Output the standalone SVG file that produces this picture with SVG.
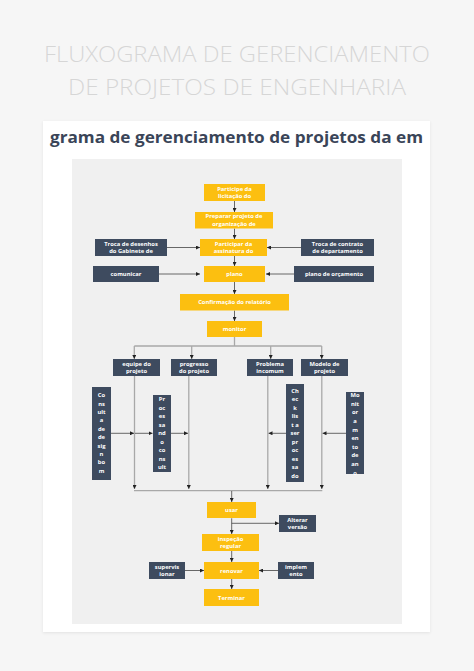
<svg xmlns="http://www.w3.org/2000/svg" width="474" height="671" viewBox="0 0 474 671">
<defs>
<marker id="ah" viewBox="0 0 6 6" refX="6" refY="3" markerWidth="4" markerHeight="4" markerUnits="userSpaceOnUse" orient="auto">
<path d="M0,0 L6,3 L0,6 Z" fill="#222"/>
</marker>
<filter id="sh" x="-5%" y="-5%" width="110%" height="110%">
<feDropShadow dx="0" dy="1" stdDeviation="1.5" flood-color="#000" flood-opacity="0.08"/>
</filter>
</defs>
<style>
.y{fill:#fcbf10}
.d{fill:#3e4b5f}
.t{font-family:"Open Sans","Noto Sans",sans-serif;font-weight:700;font-size:5.8px;fill:#ffffff;text-anchor:middle}
.c{fill:none;stroke:#444;stroke-width:0.8}
.g{fill:none;stroke:#a8a8a8;stroke-width:1.3}
.a{marker-end:url(#ah)}
</style>
<rect width="474" height="671" fill="#f6f6f6"/>
<g id="title" font-family="'Open Sans','Noto Sans',sans-serif" font-weight="300" font-size="22" fill="#d6d6d6" text-anchor="middle">
<text x="237" y="62" textLength="386" lengthAdjust="spacingAndGlyphs">FLUXOGRAMA DE GERENCIAMENTO</text>
<text x="237" y="95" textLength="338" lengthAdjust="spacingAndGlyphs">DE PROJETOS DE ENGENHARIA</text>
</g>
<rect x="43" y="121" width="387" height="511" fill="#ffffff" filter="url(#sh)"/>
<text x="50" y="143" font-family="'Open Sans','Noto Sans',sans-serif" font-weight="700" font-size="16" fill="#3a4558" textLength="373" lengthAdjust="spacingAndGlyphs">grama de gerenciamento de projetos da em</text>
<rect x="72" y="159" width="330" height="465" fill="#f0f0f0"/>

<g id="connectors">
<path class="c a" d="M234.5,201 V212"/>
<path class="c a" d="M234.5,228.5 V239"/>
<path class="c a" d="M234.5,256 V266"/>
<path class="c a" d="M234.5,282 V294"/>
<path class="c a" d="M234.5,310.5 V321"/>
<path class="c a" d="M167,247.5 H200"/>
<path class="c a" d="M301,247.5 H267"/>
<path class="c a" d="M159,274 H200"/>
<path class="c a" d="M294,274 H266"/>
<path class="g" d="M234.5,337 V346 M134.3,346 H321.7"/>
<path class="g a" d="M134.3,346 V359"/>
<path class="g a" d="M191.7,346 V359"/>
<path class="g a" d="M270.7,346 V359"/>
<path class="g a" d="M321.7,346 V359"/>
<path class="g a" d="M134.5,376 V489"/>
<path class="g a" d="M188.8,376 V489"/>
<path class="g a" d="M267.8,376 V489"/>
<path class="g a" d="M321.8,376 V489"/>
<path class="g" d="M134,490.7 H322.3"/>
<path class="c a" d="M111,433.3 H134"/>
<path class="c a" d="M135,433.3 H152.5"/>
<path class="c a" d="M171,433.3 H188"/>
<path class="c a" d="M286,433.3 H268.5"/>
<path class="c a" d="M346,433.3 H322.5"/>
<path class="c a" d="M231.7,491 V502"/>
<path class="c a" d="M231.7,518.3 V534"/>
<path class="c a" d="M231.7,523.3 H279"/>
<path class="c a" d="M231.7,551 V562"/>
<path class="c a" d="M231.7,579 V589"/>
<path class="c a" d="M185,570.5 H204"/>
<path class="c a" d="M278,570.5 H259"/>
</g>

<g id="n1"><rect class="y" x="204" y="184" width="61" height="17"/><text class="t" x="234.5" y="190.6">Participe da</text><text class="t" x="234.5" y="198.4">licitação do</text></g>
<g id="n2"><rect class="y" x="195" y="212" width="78" height="16.5"/><text class="t" x="234" y="218.4">Preparar projeto de</text><text class="t" x="234" y="226.2">organização de</text></g>
<g id="n3"><rect class="y" x="200" y="239" width="67" height="17"/><text class="t" x="233.5" y="245.6">Participar da</text><text class="t" x="233.5" y="253.4">assinatura do</text></g>
<g id="n4"><rect class="d" x="95" y="239" width="72" height="17"/><text class="t" x="131" y="245.6">Troca de desenhos</text><text class="t" x="131" y="253.4">do Gabinete de</text></g>
<g id="n5"><rect class="d" x="301" y="239" width="73" height="17"/><text class="t" x="337.5" y="245.6">Troca de contrato</text><text class="t" x="337.5" y="253.4">de departamento</text></g>
<g id="n6"><rect class="y" x="204" y="266" width="61" height="16"/><text class="t" x="234.5" y="276">plano</text></g>
<g id="n7"><rect class="d" x="93" y="266" width="66" height="16"/><text class="t" x="126" y="276">comunicar</text></g>
<g id="n8"><rect class="d" x="294" y="266" width="80" height="16"/><text class="t" x="334" y="276">plano de orçamento</text></g>
<g id="n9"><rect class="y" x="180" y="294" width="109" height="16.5"/><text class="t" x="234.5" y="304.3">Confirmação do relatório</text></g>
<g id="n10"><rect class="y" x="207" y="321" width="55" height="16"/><text class="t" x="234.5" y="331">monitor</text></g>
<g id="n11"><rect class="d" x="113" y="359" width="47" height="17"/><text class="t" x="136.5" y="365.6">equipe do</text><text class="t" x="136.5" y="373.4">projeto</text></g>
<g id="n12"><rect class="d" x="171" y="359" width="46" height="17"/><text class="t" x="194" y="365.6">progresso</text><text class="t" x="194" y="373.4">do projeto</text></g>
<g id="n13"><rect class="d" x="247" y="359" width="46" height="17"/><text class="t" x="270" y="365.6">Problema</text><text class="t" x="270" y="373.4">incomum</text></g>
<g id="n14"><rect class="d" x="301" y="359" width="47" height="17"/><text class="t" x="324.5" y="365.6">Modelo de</text><text class="t" x="324.5" y="373.4">projeto</text></g>

<g id="n15"><rect class="d" x="92" y="387" width="19" height="93"/>
<text class="t" x="101.5" y="397.2">Co</text><text class="t" x="101.5" y="405.6">ns</text><text class="t" x="101.5" y="414">ult</text><text class="t" x="101.5" y="422.4">a</text><text class="t" x="101.5" y="430.8">de</text><text class="t" x="101.5" y="439.2">de</text><text class="t" x="101.5" y="447.6">sig</text><text class="t" x="101.5" y="456">n</text><text class="t" x="101.5" y="464.4">bo</text><text class="t" x="101.5" y="472.8">m</text></g>
<g id="n16"><rect class="d" x="153" y="395" width="18" height="77"/>
<text class="t" x="162" y="401.2">Pr</text><text class="t" x="162" y="409.7">oc</text><text class="t" x="162" y="418.2">es</text><text class="t" x="162" y="426.7">sa</text><text class="t" x="162" y="435.2">nd</text><text class="t" x="162" y="443.7">o</text><text class="t" x="162" y="452.2">co</text><text class="t" x="162" y="460.7">ns</text><text class="t" x="162" y="469.2">ult</text></g>
<g id="n17"><rect class="d" x="286" y="384" width="18" height="98"/>
<text class="t" x="295" y="392.9">Ch</text><text class="t" x="295" y="401.4">ec</text><text class="t" x="295" y="409.9">k</text><text class="t" x="295" y="418.4">lis</text><text class="t" x="295" y="426.9">t a</text><text class="t" x="295" y="435.4">ser</text><text class="t" x="295" y="443.9">pr</text><text class="t" x="295" y="452.4">oc</text><text class="t" x="295" y="460.9">es</text><text class="t" x="295" y="469.4">sa</text><text class="t" x="295" y="477.9">do</text></g>
<g id="n18"><rect class="d" x="346" y="392" width="18" height="82"/>
<text class="t" x="355" y="397.2">Mo</text><text class="t" x="355" y="405.8">nit</text><text class="t" x="355" y="414.4">or</text><text class="t" x="355" y="423">a</text><text class="t" x="355" y="431.6">m</text><text class="t" x="355" y="440.2">en</text><text class="t" x="355" y="448.8">to</text><text class="t" x="355" y="457.4">de</text><text class="t" x="355" y="466">an</text><text class="t" x="355" y="474.6">o</text></g>

<g id="n19"><rect class="y" x="207" y="502" width="49" height="16"/><text class="t" x="231.5" y="512">usar</text></g>
<g id="n20"><rect class="d" x="279" y="515" width="37" height="17"/><text class="t" x="297.5" y="521.6">Alterar</text><text class="t" x="297.5" y="529.4">versão</text></g>
<g id="n21"><rect class="y" x="202" y="534" width="57" height="17"/><text class="t" x="230.5" y="540.6">inspeção</text><text class="t" x="230.5" y="548.4">regular</text></g>
<g id="n22"><rect class="y" x="204" y="562" width="55" height="17"/><text class="t" x="231.5" y="572.5">renovar</text></g>
<g id="n23"><rect class="d" x="149" y="562" width="36" height="17"/><text class="t" x="167" y="568.6">supervis</text><text class="t" x="167" y="576.4">ionar</text></g>
<g id="n24"><rect class="d" x="278" y="562" width="36" height="17"/><text class="t" x="296" y="568.6">implem</text><text class="t" x="296" y="576.4">ento</text></g>
<g id="n25"><rect class="y" x="204" y="589" width="55" height="17"/><text class="t" x="231.5" y="599.5">Terminar</text></g>
</svg>
